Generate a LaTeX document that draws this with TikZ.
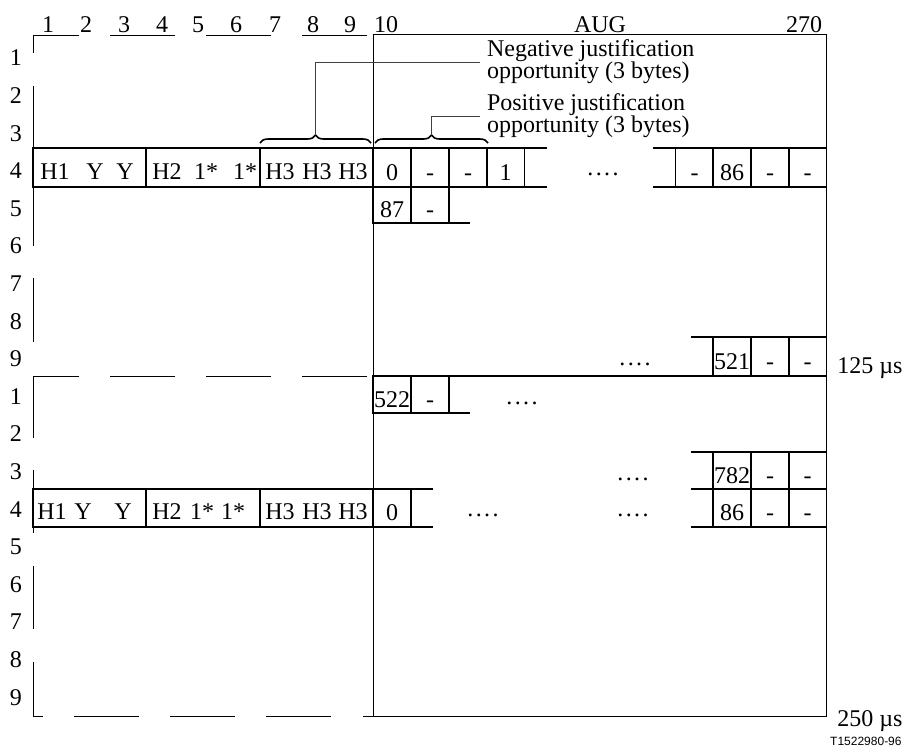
\documentclass[tikz,border=0pt]{standalone}
\usepackage{fontspec}
\setmainfont{Liberation Serif}
\newfontfamily\tagfont{Liberation Sans}
\usetikzlibrary{decorations.pathreplacing}

\tikzset{
  cell/.style={draw, line width=0.8pt, inner sep=0pt, outer sep=0pt,
               minimum width=18.85pt, text height=12.5pt, text depth=0pt},
  rule/.style={line width=0.8pt},
  frame/.style={line width=0.5pt},
  callout/.style={line width=0.5pt, black!75},
  curly/.style={line width=0.8pt, decorate, decoration={brace, amplitude=4pt}},
  ellipsis/.style={anchor=base, inner sep=0pt}
}
\newcommand{\fourdots}{.\kern1.2pt.\kern1.2pt.\kern1.2pt.}

\begin{document}
\begin{tikzpicture}[x=0.5pt, y=-0.5pt, font=\fontsize{12}{11}\selectfont]
  \useasboundingbox (0,0) rectangle (906,751);

  % Column numbers
  \foreach \c/\x in {1/48,2/86,3/124,4/162,5/198,6/236,7/275,8/313,9/350}
    \node (col\c) at (\x,25) {\c};
  \node (col10) at (386,25) {10};
  \node (aug) at (600,25) {AUG};
  \node (col270) at (804,25) {270};

  % Row numbers (two frames)
  \foreach \r in {1,...,9} {
    \node (rowa\r) at (16,{58+37.6*(\r-1)}) {\r};
    \node (rowb\r) at (16,{396.4+37.6*(\r-1)}) {\r};
  }

  % Broken outline of the pointer columns
  \foreach \ya/\yb in {35/53,86/246,278/342,376/438,470/533,566/629,662/716}
    \draw[frame] (33,\ya) -- (33,\yb);
  \foreach \xa/\xb in {33/79,110/175,206/271,302/367} {
    \draw[frame] (\xa,35) -- (\xb,35);
    \draw[frame] (\xa,376) -- (\xb,376);
  }
  \foreach \xa/\xb in {33/43,74/139,170/235,266/331,363/373}
    \draw[frame] (\xa,716) -- (\xb,716);

  % AUG area
  \draw[frame] (373,34) rectangle (826,716);

  % Pointer, first frame
  \draw[rule] (33,148) rectangle (373,187);
  \draw[rule] (146,148) -- (146,187) (260,148) -- (260,187);
  \foreach \t/\x [count=\i] in {H1/55,Y/95,Y/125,H2/167,1*/206,1*/245,H3/280,H3/317,H3/353}
    \node (pa\i) at (\x,172) {\t};

  % Row 4, first frame
  \foreach \t/\x [count=\i] in {0/392,-/430,-/468,1/505.5}
    \node[cell, minimum height=19.5pt] (ja\i) at (\x,167.5) {\t};
  \draw[rule] (ja4.north east) -- (547,148) (ja4.south east) -- (547,187);
  \node[ellipsis] (dotsa) at (603,175.5) {\fourdots};
  \foreach \t/\x [count=\i] in {-/694.5,86/732,-/770,-/807.5}
    \node[cell, minimum height=19.5pt] (ka\i) at (\x,167.5) {\t};
  \draw[rule] (ka1.north west) -- (653,148) (ka1.south west) -- (653,187);

  % Row 5
  \node[cell, minimum height=18pt] (na1) at (392,205) {87};
  \node[cell, minimum height=18pt] (na2) at (430,205) {-};
  \draw[rule] (na2.south east) -- (470,223);

  % Row 9
  \foreach \t/\x [count=\i] in {521/732,-/770,-/807.5}
    \node[cell, minimum height=19.5pt] (ra\i) at (\x,356.5) {\t};
  \draw[rule] (ra1.north west) -- (691,337);
  \draw[rule] (373,376) -- (ra1.south west);
  \node[ellipsis] (dotsr) at (635,365.5) {\fourdots};

  % Row 1, second frame
  \node[cell, minimum height=18.5pt] (nb1) at (392,394.5) {522};
  \node[cell, minimum height=18.5pt] (nb2) at (430,394.5) {-};
  \draw[rule] (nb2.south east) -- (470,413);
  \node[ellipsis] (dotsb) at (522,404.5) {\fourdots};

  % Row 3, second frame
  \foreach \t/\x [count=\i] in {782/732,-/770,-/807.5}
    \node[cell, minimum height=18.5pt] (sb\i) at (\x,470.5) {\t};
  \draw[rule] (sb1.north west) -- (691,452) (sb1.south west) -- (691,489);
  \node[ellipsis] (dotsc) at (633,480.5) {\fourdots};

  % Pointer, second frame
  \draw[rule] (33,489) rectangle (373,527);
  \draw[rule] (146,489) -- (146,527) (260,489) -- (260,527);
  \foreach \t/\x [count=\i] in {H1/52,Y/83,Y/123,H2/167,1*/202,1*/233,H3/280,H3/317,H3/353}
    \node (pb\i) at (\x,512) {\t};

  % Row 4, second frame
  \node[cell, minimum height=19pt] (jb1) at (392,508) {0};
  \draw[rule] (jb1.north east) -- (433,489) (jb1.south east) -- (433,527);
  \node[ellipsis] (dotsd) at (483,516.5) {\fourdots};
  \node[ellipsis] (dotse) at (633,516.5) {\fourdots};
  \foreach \t/\x [count=\i] in {86/732,-/770,-/807.5}
    \node[cell, minimum height=19pt] (kb1\i) at (\x,508) {\t};
  \draw[rule] (kb11.south west) -- (691,527);

  % Justification opportunities
  \draw[curly] (260,143) -- (371,143);
  \coordinate (negtip) at (315.5,135);
  \draw[curly] (375,143) -- (488,143);
  \coordinate (postip) at (431.5,135);
  \node[anchor=west, align=left] (negtext) at (480,62)
    {Negative justification\\opportunity (3 bytes)};
  \node[anchor=west, align=left] (postext) at (480,116)
    {Positive justification\\opportunity (3 bytes)};
  \draw[callout] (negtip) |- (negtext.west);
  \draw[callout] (postip) |- (postext.west);

  % Time marks
  \node (t125) at (870,368) {125 µs};
  \node (t250) at (870,721) {250 µs};
  \node[anchor=east, inner sep=0pt, font={\tagfont\fontsize{6}{7}\selectfont}] (tag)
    at (902,741) {T1522980-96};
\end{tikzpicture}
\end{document}
